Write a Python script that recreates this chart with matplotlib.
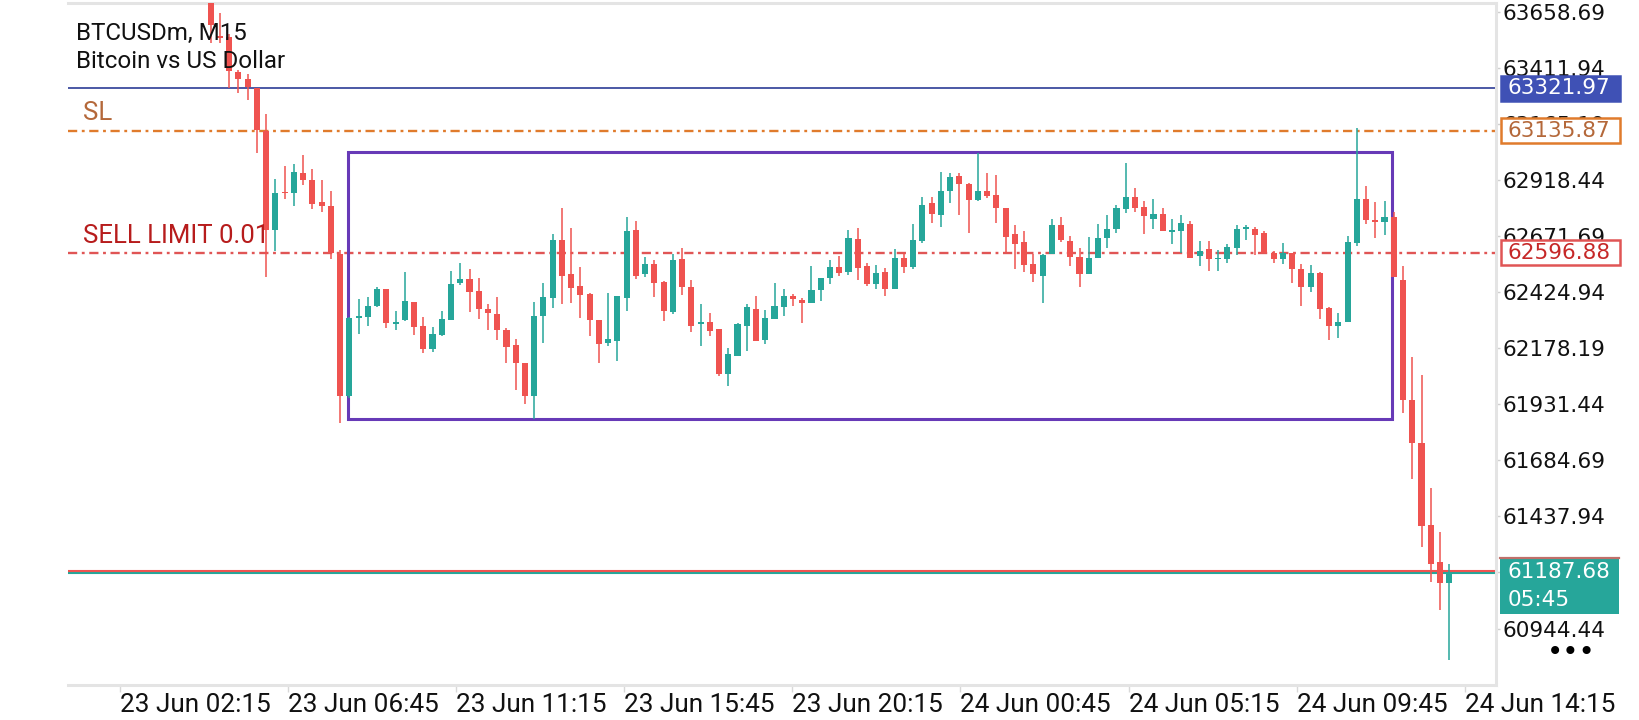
import matplotlib
matplotlib.use('Agg')
import matplotlib.pyplot as plt
import matplotlib.transforms as mtransforms
from matplotlib.patches import Rectangle
import numpy as np

# M15 candles (first visible bar = 23 Jun ~04:45)
opens = [63760, 63552, 63546, 63395, 63362, 63321, 63134, 62698, 62865, 62862,
         62947, 62918, 62821, 62804, 62592, 61968, 62309, 62317, 62363, 62438,
         62284, 62302, 62380, 62276, 62174, 62236, 62302, 62466, 62482, 62430,
         62350, 62328, 62258, 62192, 62111, 61968, 62320, 62400, 62654, 62503,
         62452, 62415, 62302, 62202, 62210, 62400, 62698, 62504, 62548, 62471,
         62339, 62569, 62446, 62286, 62292, 62261, 62065, 62145, 62277, 62349,
         62214, 62307, 62361, 62408, 62390, 62378, 62434, 62488, 62535, 62515,
         62657, 62540, 62459, 62512, 62437, 62573, 62534, 62650, 62815, 62764,
         62870, 62936, 62900, 62830, 62870, 62852, 62793, 62680, 62644, 62547,
         62497, 62591, 62720, 62650, 62581, 62503, 62576, 62662, 62703, 62790,
         62845, 62801, 62746, 62770, 62691, 62694, 62725, 62583, 62615, 62569,
         62569, 62620, 62703, 62703, 62683, 62596, 62569, 62596, 62525, 62449,
         62509, 62354, 62277, 62292, 62639, 62836, 62743, 62733, 62757, 62478,
         61952, 61759, 61399, 61237, 61147]
highs = [63790, 63651, 63560, 63400, 63384, 63325, 63207, 62922, 62980, 62988,
         63028, 62966, 62918, 62870, 62610, 62315, 62394, 62405, 62446, 62440,
         62342, 62515, 62383, 62317, 62273, 62342, 62519, 62551, 62525, 62485,
         62372, 62402, 62265, 62217, 62111, 62383, 62464, 62680, 62793, 62705,
         62534, 62419, 62302, 62419, 62408, 62754, 62736, 62578, 62566, 62474,
         62592, 62617, 62478, 62372, 62331, 62261, 62177, 62289, 62372, 62409,
         62346, 62463, 62437, 62416, 62397, 62540, 62485, 62566, 62584, 62698,
         62705, 62551, 62544, 62529, 62614, 62598, 62724, 62845, 62845, 62955,
         62950, 62950, 62906, 63038, 62950, 62940, 62793, 62720, 62694, 62592,
         62592, 62745, 62754, 62672, 62617, 62666, 62723, 62766, 62809, 62995,
         62883, 62825, 62833, 62793, 62746, 62766, 62738, 62651, 62651, 62612,
         62635, 62719, 62722, 62710, 62694, 62604, 62643, 62599, 62549, 62545,
         62514, 62359, 62332, 62672, 63145, 62891, 62820, 62825, 62777, 62541,
         62141, 62062, 61562, 61368, 61227]
lows = [63519, 63519, 63321, 63299, 63270, 63035, 62493, 62607, 62834, 62805,
        62896, 62790, 62779, 62569, 61850, 61960, 62239, 62276, 62360, 62266,
        62258, 62298, 62236, 62155, 62163, 62232, 62300, 62456, 62339, 62306,
        62258, 62214, 62111, 61994, 61932, 61865, 62199, 62356, 62373, 62378,
        62312, 62232, 62111, 62188, 62123, 62343, 62482, 62490, 62405, 62299,
        62330, 62412, 62248, 62189, 62233, 62057, 62013, 62145, 62167, 62211,
        62196, 62307, 62321, 62365, 62287, 62378, 62387, 62460, 62497, 62500,
        62478, 62453, 62437, 62409, 62437, 62510, 62525, 62642, 62730, 62713,
        62818, 62764, 62686, 62827, 62840, 62730, 62595, 62525, 62515, 62471,
        62375, 62591, 62644, 62541, 62446, 62503, 62575, 62620, 62683, 62773,
        62777, 62680, 62703, 62694, 62635, 62596, 62575, 62541, 62517, 62517,
        62552, 62588, 62654, 62588, 62596, 62552, 62549, 62466, 62364, 62427,
        62308, 62214, 62225, 62292, 62627, 62725, 62662, 62675, 62490, 61893,
        61601, 61304, 61151, 61026, 60804]
closes = [63600, 63545, 63399, 63361, 63326, 63138, 62698, 62859, 62859, 62952,
          62918, 62812, 62805, 62595, 61968, 62309, 62320, 62365, 62438, 62287,
          62295, 62386, 62273, 62174, 62239, 62305, 62459, 62482, 62427, 62350,
          62331, 62258, 62185, 62111, 61968, 62320, 62402, 62654, 62497, 62444,
          62412, 62302, 62196, 62218, 62408, 62694, 62496, 62548, 62466, 62342,
          62566, 62449, 62277, 62292, 62255, 62065, 62152, 62284, 62358, 62211,
          62309, 62364, 62408, 62393, 62378, 62434, 62485, 62535, 62510, 62661,
          62532, 62461, 62507, 62437, 62573, 62534, 62654, 62808, 62767, 62870,
          62933, 62899, 62830, 62870, 62849, 62796, 62669, 62635, 62544, 62503,
          62588, 62720, 62654, 62581, 62503, 62576, 62664, 62703, 62793, 62845,
          62796, 62759, 62770, 62694, 62699, 62730, 62575, 62607, 62569, 62574,
          62624, 62703, 62710, 62678, 62596, 62569, 62596, 62525, 62449, 62509,
          62350, 62275, 62293, 62646, 62833, 62741, 62733, 62757, 62490, 61949,
          61759, 61396, 61230, 61147, 61187.68]

time_labels = ['23 Jun 02:15', '23 Jun 06:45', '23 Jun 11:15', '23 Jun 15:45',
               '23 Jun 20:15', '24 Jun 00:45', '24 Jun 05:15', '24 Jun 09:45',
               '24 Jun 14:15']
price_ticks = [63658.69, 63411.94, 63165.19, 62918.44, 62671.69, 62424.94,
               62178.19, 61931.44, 61684.69, 61437.94, 61191.19, 60944.44]

hline_level = 63321.97
sl_level = 63135.87
sell_limit_level = 62596.88
bid_level = 61187.68
ask_level = 61197.0
bar_timer = '05:45'

# drawn range rectangle (bar positions / prices)
box_left, box_right = 14.82, 127.84
box_top, box_bottom = 63042, 61865

BULL = '#26a69a'
BEAR = '#ef5350'

W, H = 1640, 720
fig = plt.figure(figsize=(W / 100, H / 100), dpi=100)
ax_l, ax_r, ax_t, ax_b = 68, 1496, 3, 685
ax = fig.add_axes([ax_l / W, (H - ax_b) / H, (ax_r - ax_l) / W, (ax_b - ax_t) / H])

y_lo, y_hi = 60696.08, 63696.88
ax.set_ylim(y_lo, y_hi)
ax.set_xlim(-15.44, 139.06)
ppx = (y_hi - y_lo) / (ax_b - ax_t)  # price per pixel

o = np.array(opens, float)
h = np.array(highs, float)
l = np.array(lows, float)
c = np.array(closes, float)
x = np.arange(len(o))
cols = np.where(c >= o, BULL, BEAR)

# level lines
dashdot = (0, (3.9, 1.95, 1.2, 1.95))
ax.axhline(hline_level, color='#3d4b9e', lw=1.3, zorder=2)
ax.axhline(sl_level, color='#e07b2c', lw=1.7, linestyle=dashdot, zorder=2)
ax.axhline(sell_limit_level, color='#e05555', lw=1.7, linestyle=dashdot, zorder=2)
ax.axhline(bid_level, color=BULL, lw=1.5, zorder=2)
ax.axhline(ask_level, color=BEAR, lw=1.5, zorder=2.1)

ax.add_patch(Rectangle((box_left, box_bottom), box_right - box_left, box_top - box_bottom,
                       fill=False, edgecolor='#673ab7', lw=2.2, zorder=2.5))

# candles
ax.vlines(x, l, h, colors=cols, lw=1.1, zorder=3)
body_bot = np.minimum(o, c)
body_h = np.maximum(np.abs(c - o), 1.2 * ppx)
ax.bar(x, body_h, bottom=body_bot, width=0.66, color=cols, linewidth=0, zorder=4)

# axes look
ax.spines['left'].set_visible(False)
for s in ['top', 'right', 'bottom']:
    ax.spines[s].set_color('#e4e4e4')
    ax.spines[s].set_linewidth(2.2)

ax.yaxis.tick_right()
ax.set_yticks(price_ticks)
ax.set_yticklabels([f'{v:.2f}' for v in price_ticks])
ax.tick_params(axis='y', length=3, width=1, color='#cfcfcf', pad=2,
               labelsize=15.5, labelcolor='#111111')
for lbl in ax.get_yticklabels():
    lbl.set_family('DejaVu Sans')

tick_first, tick_step = -9.78, 18.18
ax.set_xticks([tick_first + tick_step * k for k in range(len(time_labels))])
ax.set_xticklabels(time_labels)
ax.tick_params(axis='x', length=5, width=1, color='#d8d8d8', pad=1,
               labelsize=18.8, labelcolor='#111111')
for lbl in ax.get_xticklabels():
    lbl.set_family('Roboto')
    lbl.set_ha('left')

# header and order labels
fig.text(76 / W, 1 - 33 / H, 'BTCUSDm, M15', fontsize=17.4, family='Roboto',
         color='#111111', va='center', zorder=6)
fig.text(76 / W, 1 - 62 / H, 'Bitcoin vs US Dollar', fontsize=17.4, family='Roboto',
         color='#111111', va='center', zorder=6)
fig.text(83 / W, 1 - 113 / H, 'SL', fontsize=18.5, family='Roboto',
         color='#b4683a', va='center')
fig.text(83 / W, 1 - 236 / H, 'SELL LIMIT 0.01', fontsize=18.5, family='Roboto',
         color='#b71c1c', va='center')

# price tags on the right scale
blend = mtransforms.blended_transform_factory(fig.transFigure, ax.transData)


def price_tag(price, text, face, edge, tcolor, top_px=12.5, bot_px=12.5):
    ax.add_patch(Rectangle((1501 / W, price - bot_px * ppx), 119 / W,
                           (top_px + bot_px) * ppx, transform=blend,
                           facecolor=face, edgecolor=edge, lw=1.8,
                           clip_on=False, zorder=6))
    ax.text(1508 / W, price, text, transform=blend, color=tcolor, fontsize=15.5,
            family='DejaVu Sans', va='center', ha='left', clip_on=False, zorder=7)


price_tag(hline_level, f'{hline_level:.2f}', '#3f51b5', '#3f51b5', 'white')
price_tag(sl_level, f'{sl_level:.2f}', 'white', '#e07b2c', '#b4683a')
price_tag(sell_limit_level, f'{sell_limit_level:.2f}', 'white', '#e05555', '#c62828')

# current price tag with bar timer
ax.add_patch(Rectangle((1500 / W, bid_level - 41 * ppx), 119 / W, 56.6 * ppx,
                       transform=blend, facecolor=BULL, edgecolor='none',
                       clip_on=False, zorder=6))
ax.plot([1500 / W, 1619 / W], [bid_level + 15 * ppx] * 2, transform=blend,
        color='#c0706a', lw=1.6, clip_on=False, zorder=6.5)
ax.text(1508 / W, bid_level + 1 * ppx, f'{bid_level:.2f}', transform=blend,
        color='white', fontsize=15.5, family='DejaVu Sans', va='center',
        clip_on=False, zorder=7)
ax.text(1508 / W, bid_level - 26.5 * ppx, bar_timer, transform=blend,
        color='white', fontsize=15.5, family='DejaVu Sans', va='center',
        clip_on=False, zorder=7)

fig.text(1571 / W, 1 - 652 / H, '\u2022\u2022\u2022', fontsize=20, ha='center',
         va='center', color='black', family='DejaVu Sans')

fig.savefig('out.png', dpi=100, facecolor='white')
